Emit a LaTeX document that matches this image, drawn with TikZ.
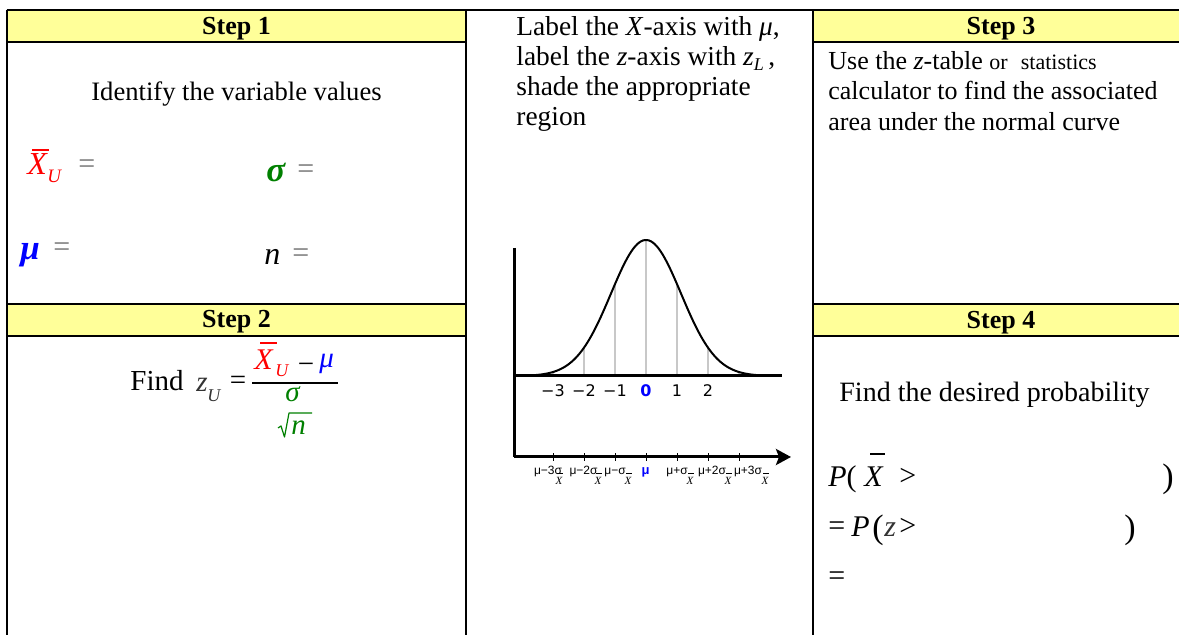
\documentclass[tikz,border=0pt]{standalone}
\usepackage{fontspec}
\setmainfont{Liberation Serif}
\newfontfamily\lsans{Liberation Sans}
\newfontfamily\dsans{DejaVu Sans}
\usetikzlibrary{arrows.meta}
\definecolor{hdr}{HTML}{FFFF99}
\definecolor{myred}{HTML}{FF0000}
\definecolor{myblue}{HTML}{0000FF}
\definecolor{mygreen}{HTML}{008000}
\definecolor{eqgray}{HTML}{777777}
\definecolor{zgray}{HTML}{333333}
\definecolor{tick}{HTML}{C8C8C8}
\begin{document}
\begin{tikzpicture}[x=0.5pt,y=-0.5pt,
  rule/.style={line width=1pt},
  txt/.style={inner sep=0pt, anchor=base west},
  hdrtext/.style={inner sep=0pt, anchor=base, font=\fontsize{13}{15}\selectfont\bfseries},
  body/.style={txt, font=\fontsize{13.3}{15}\selectfont},
  mid/.style={txt, font=\fontsize{13.7}{15}\selectfont},
  big/.style={txt, font=\fontsize{15}{17}\selectfont},
  bigger/.style={txt, font=\fontsize{17.5}{19}\selectfont},
  sub/.style={txt, font=\fontsize{9.5}{11}\selectfont\itshape},
  bar/.style={line width=0.85pt},
  zlab/.style={inner sep=0pt, anchor=base, font=\dsans\fontsize{8}{9}\selectfont},
  xlab/.style={inner sep=0pt, anchor=base, font=\lsans\fontsize{6}{7}\selectfont},
  xsub/.style={inner sep=0pt, anchor=base, font=\fontsize{5.5}{6}\selectfont\itshape},
  guide/.style={draw=tick, line width=1.4pt},
  axis/.style={line width=1.5pt}]
\useasboundingbox (0,0) rectangle (1179,635);
\fill[white] (0,0) rectangle (1179,635);
% ---------- table ----------
\fill[hdr] (7,10) rectangle (466,42);
\fill[hdr] (7,304) rectangle (466,336);
\fill[hdr] (813,10) rectangle (1195,42);
\fill[hdr] (813,304) rectangle (1195,336);
\draw[rule] (6.5,10) -- (1195,10);
\draw[rule] (7,42) -- (466,42) (813,42) -- (1195,42);
\draw[rule] (7,304) -- (466,304) (813,304) -- (1195,304);
\draw[rule] (7,336) -- (466,336) (813,336) -- (1195,336);
\draw[rule] (7,10) -- (7,645) (466,10) -- (466,645) (813,10) -- (813,645);
% ---------- headers ----------
\node[hdrtext] (s1) at (236.5,35) {Step 1};
\node[hdrtext] (s2) at (236.5,328) {Step 2};
\node[hdrtext] (s3) at (1001,35) {Step 3};
\node[hdrtext] (s4) at (1001,329) {Step 4};
% ---------- Step 1 ----------
\node[body, anchor=base] (ident) at (236.5,101) {Identify the variable values};
\node[big, text=myred, font=\fontsize{16}{18}\selectfont] (xu) at (27,175) {\itshape X};
\draw[bar, myred] (32,150) -- (49,150);
\node[sub, text=myred] (xus) at (47,183) {U};
\node[big, text=eqgray] (eq1) at (78,174) {=};
\node[bigger, text=mygreen] (sig) at (266,182) {\bfseries\itshape σ};
\node[big, text=eqgray] (eq2) at (297,179) {=};
\node[bigger, text=myblue] (mu) at (20,260) {\bfseries\itshape μ};
\node[big, text=eqgray] (eq3) at (53,257) {=};
\node[big, font=\fontsize{16}{18}\selectfont] (n) at (264,265) {\itshape n};
\node[big, text=eqgray] (eq4) at (292,263) {=};
% ---------- Step 2 ----------
\node[txt, font=\fontsize{14.5}{16}\selectfont] (find) at (130,391) {Find};
\node[txt, font=\fontsize{14.5}{16}\selectfont\itshape, text=zgray] (zu) at (196,392) {z};
\node[txt, font=\fontsize{9}{10}\selectfont\itshape, text=zgray] (zus) at (207,402) {U};
\node[txt, font=\fontsize{14.5}{16}\selectfont] (eq5) at (229.5,390) {=};
\draw[line width=0.6pt] (252,383) -- (338,383);
\node[big, text=myred] (nx) at (254,370) {\itshape X};
\draw[bar, myred] (260,343) -- (277,343);
\node[txt, font=\fontsize{9}{10}\selectfont\itshape, text=myred] (nxs) at (275,377) {U};
\node[txt, font=\fontsize{14.5}{16}\selectfont] (minus) at (297.5,374) {−};
\node[txt, font=\fontsize{14.5}{16}\selectfont\itshape, text=myblue] (nmu) at (319,368) {μ};
\node[txt, font=\fontsize{14.5}{16}\selectfont\itshape, text=mygreen] (dsig) at (285,402) {σ};
\draw[mygreen, line width=0.6pt, line join=round] (278,428) -- (281,426) -- (284.5,437) -- (289,413) -- (312,413);
\node[txt, font=\fontsize{14.5}{16}\selectfont\itshape, text=mygreen] (dn) at (291,435) {n};
% ---------- middle column text ----------
\node[mid] (m1) at (516,36) {Label the \textit{X}-axis with \textit{μ},};
\node[mid] (m2) at (516,66) {label the \textit{z}-axis with \textit{z}\raisebox{-0.35ex}{\fontsize{9}{10}\selectfont\textit{L}}\,,};
\node[mid] (m3) at (516,96) {shade the appropriate};
\node[mid] (m4) at (516,126) {region};
% ---------- graph ----------
\coordinate (ytop) at (514,248);
\coordinate (org) at (514,457);
\coordinate (zl) at (514,376);
\coordinate (zr) at (782,376);
\coordinate (xr) at (791,457);
\foreach \k in {-3,...,3}{
  \pgfmathsetmacro{\xx}{646+31*\k}
  \pgfmathsetmacro{\yy}{376-136*exp(-0.5*((31*\k)/35)^2)}
  \draw[guide] (\xx,376) -- (\xx,\yy);
  \draw[line width=0.5pt] (\xx,453.5) -- (\xx,461);
}
\draw[line width=1pt] plot[domain=528:764, samples=120, smooth] (\x, {376-136*exp(-0.5*((\x-646)/35)^2)});
\draw[axis] (ytop) -- (org);
\draw[axis] (zl) -- (zr);
\draw[axis, -{Stealth[length=7.5pt, width=8pt, inset=1.5pt]}] (org) -- (xr);
\foreach \k/\lab in {-3/−3,-2/−2,-1/−1,1/1,2/2}{
  \node[zlab] (z\k) at ({646+31*\k},397) {\lab};
}
\node[zlab, text=myblue, font=\dsans\fontsize{8}{9}\selectfont\bfseries] (z0) at (646,397) {0};
\foreach \c/\lab/\s/\nm in {548/μ−3σ/559/a, 583.5/μ−2σ/598/b, 615/μ−σ/628/c, 677/μ+σ/690/d, 712/μ+2σ/728/e, 748/μ+3σ/765/f}{
  \node[xlab] (xl\nm) at (\c,475) {\lab};
  \node[xsub] (xs\nm) at (\s,485) {X};
  \draw[line width=0.4pt] (\s-2,473.5) -- (\s+3.5,473.5);
}
\node[xlab, text=myblue, font=\lsans\fontsize{6.5}{7}\selectfont\bfseries] (xmu) at (645.5,475) {μ};
% ---------- Step 3 ----------
\node[txt, font=\fontsize{13}{15}\selectfont] (t1) at (828,70) {Use the \textit{z}-table {\fontsize{11}{13}\selectfont or\hspace{0.6em}statistics}};
\node[txt, font=\fontsize{13}{15}\selectfont] (t2) at (828,100) {calculator to find the associated};
\node[txt, font=\fontsize{13}{15}\selectfont] (t3) at (828,131) {area under the normal curve};
% ---------- Step 4 ----------
\node[txt, font=\fontsize{14}{16}\selectfont] (f4) at (839,402) {Find the desired probability};
\node[big] (p1) at (828,487) {\textit{P}(};
\node[big] (px) at (864,487) {\itshape X};
\draw[bar] (870,454) -- (885,454);
\node[big] (gt1) at (899,486) {>};
\node[txt, font=\fontsize{17}{18}\selectfont] (rp1) at (1162,488) {)};
\node[big] (eqa) at (828,536) {=};
\node[big] (p2) at (851,537) {\itshape P};
\node[txt, font=\fontsize{17}{18}\selectfont] (lp2) at (872,539) {(};
\node[big, text=zgray] (pz) at (884,537) {\itshape z};
\node[big] (gt2) at (899,536) {>};
\node[txt, font=\fontsize{17}{18}\selectfont] (rp2) at (1124,539) {)};
\node[big] (eqb) at (828,586) {=};
\end{tikzpicture}
\end{document}
